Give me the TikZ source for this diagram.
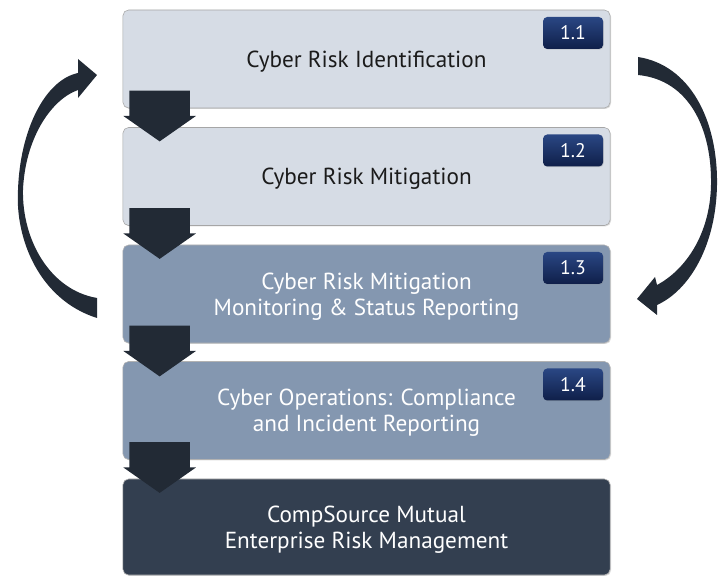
\documentclass[tikz,border=0pt]{standalone}
\usepackage{fontspec}
\setmainfont{PT Sans}
\usetikzlibrary{positioning,shapes.arrows,shadows}
\definecolor{lightstep}{HTML}{D6DCE5}
\definecolor{midstep}{HTML}{8497B0}
\definecolor{darkstep}{HTML}{333F50}
\definecolor{arrowfill}{HTML}{222A35}
\definecolor{badgetop}{HTML}{2A4784}
\definecolor{badgebot}{HTML}{0F1F49}
\definecolor{boxtext}{HTML}{1B1B1B}
\begin{document}
\begin{tikzpicture}[x=0.025cm,y=-0.025cm,
  box/.style={rounded corners=4pt,minimum width=12.175cm,minimum height=2.45cm,
    align=center,text depth=0pt,font=\fontsize{16.5}{18.5}\selectfont,
    drop shadow={opacity=0.3,shadow xshift=0.7pt,shadow yshift=-0.7pt}},
  lightbox/.style={box,fill=lightstep,draw=gray!70,text=boxtext},
  midbox/.style={box,fill=midstep,draw=gray!60,text=white},
  darkbox/.style={box,fill=darkstep,draw=gray!60,text=white},
  badge/.style={rounded corners=3pt,minimum width=1.5cm,minimum height=0.8cm,inner sep=0pt,
    top color=badgetop,bottom color=badgebot,text=white,font=\fontsize{14}{16}\selectfont,
    drop shadow={opacity=0.25,shadow xshift=0.5pt,shadow yshift=-0.5pt}},
  downarrow/.style={single arrow,shape border rotate=270,fill=arrowfill,inner sep=0pt,
    text width=1.5cm,minimum width=1.8cm,minimum height=1.27cm,single arrow head extend=0.15cm,
    single arrow tip angle=110,anchor=tail}]
\useasboundingbox (0,0) rectangle (724,576);

\node[lightbox] (b1) at (366.5,59) {Cyber Risk Identification};
\node[lightbox] (b2) at (366.5,176.5) {Cyber Risk Mitigation};
\node[midbox] (b3) at (366.5,294) {Cyber Risk Mitigation\\Monitoring \& Status Reporting};
\node[midbox] (b4) at (366.5,410.5) {Cyber Operations: Compliance\\and Incident Reporting};
\node[darkbox,minimum height=2.4cm] (b5) at (366.5,527) {CompSource Mutual\\Enterprise Risk Management};

\node[badge,below left=0.175cm and 0.175cm of b1.north east] (n1) {1.1};
\node[badge,below left=0.175cm and 0.175cm of b2.north east] (n2) {1.2};
\node[badge,below left=0.175cm and 0.175cm of b3.north east] (n3) {1.3};
\node[badge,below left=0.175cm and 0.175cm of b4.north east] (n4) {1.4};

\node[downarrow] (d1) at ([shift={(37,-18)}]b1.south west) {};
\node[downarrow] (d2) at ([shift={(37,-18)}]b2.south west) {};
\node[downarrow] (d3) at ([shift={(37,-18)}]b3.south west) {};
\node[downarrow] (d4) at ([shift={(37,-18)}]b4.south west) {};

\fill[arrowfill] (97,318) .. controls (40,300) and (15,240) .. (18,190)
  .. controls (20,130) and (45,80) .. (78,73) -- (78,59) -- (97,75) -- (78,98) -- (78,90)
  .. controls (50,100) and (25,140) .. (23,190)
  .. controls (22,240) and (50,290) .. (97,298) -- cycle;

\fill[arrowfill] (638,57) .. controls (690,65) and (718,120) .. (717,185)
  .. controls (716,245) and (690,290) .. (657,305) -- (657,315) -- (637,299) -- (655,277) -- (657,285)
  .. controls (685,270) and (710,235) .. (711,185)
  .. controls (712,130) and (690,80) .. (638,75) -- cycle;
\end{tikzpicture}
\end{document}
